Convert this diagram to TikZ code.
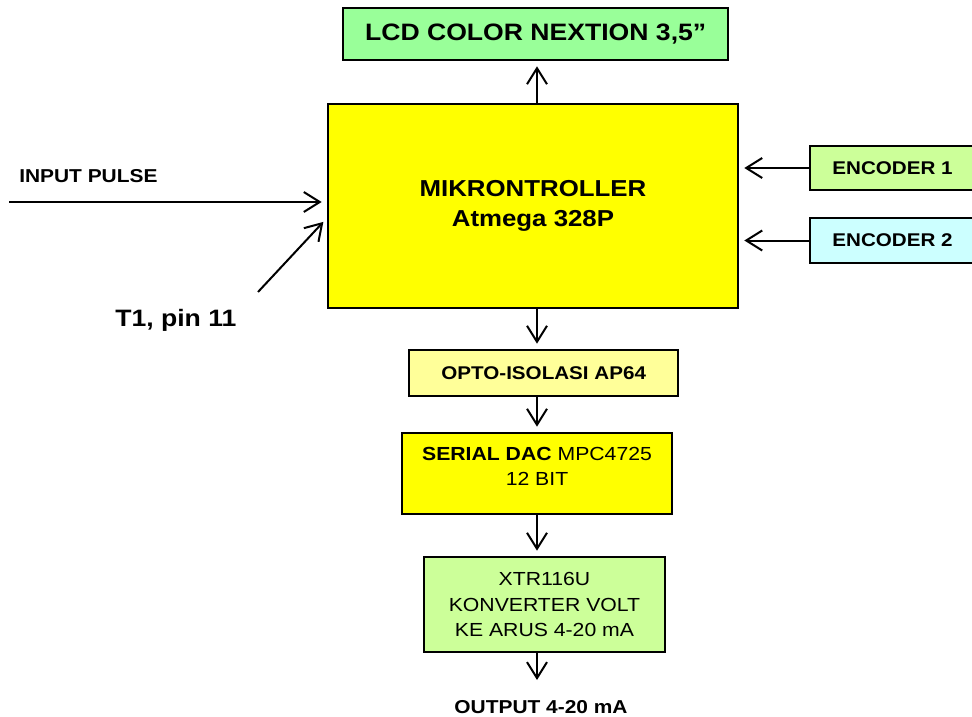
\documentclass[tikz,border=0pt]{standalone}
\usepackage{fontspec}
\setmainfont{Liberation Sans}[FakeStretch=1.12]
\usetikzlibrary{arrows.meta,positioning}
\definecolor{lcdGreen}{RGB}{153,255,153}
\definecolor{mcuYellow}{RGB}{255,255,0}
\definecolor{encLime}{RGB}{204,255,153}
\definecolor{encCyan}{RGB}{204,255,255}
\definecolor{optoYellow}{RGB}{255,255,153}
\tikzset{
  blockbox/.style={
    rectangle, draw=black, line width=1.5pt,
    fill=mcuYellow, text=black, align=center, inner sep=2pt,
    font=\fontsize{14.2}{19}\selectfont},
  boldbox/.style={
    blockbox, font=\bfseries\fontsize{13.8}{17}\selectfont},
  plainlabel/.style={
    inner sep=0pt, anchor=base west, font=\bfseries\fontsize{14}{17}\selectfont},
  arrowline/.style={-{Straight Barb[length=12pt,width=15pt]}, line width=1.5pt, shorten >=4pt}
}

\begin{document}
\begin{tikzpicture}[x=0.75pt,y=-0.75pt,node distance=30pt]
  \useasboundingbox (0,0) rectangle (972,717);

  \node[blockbox, minimum width=307.5pt, minimum height=153pt,
        font=\bfseries\fontsize{17.3}{22.5}\selectfont] (mcu) at (533,206) {MIKRONTROLLER\\Atmega 328P};

  \node[blockbox, fill=lcdGreen, minimum width=288.75pt, minimum height=39pt,
        font=\bfseries\fontsize{17.8}{21}\selectfont, above=31.5pt of mcu, xshift=2pt] (lcd) {LCD COLOR NEXTION 3,5”};

  \node[boldbox, fill=encLime, minimum width=123.75pt, minimum height=33pt] (enc1) at (892.5,168) {ENCODER 1};
  \node[boldbox, fill=encCyan, minimum width=123.75pt, minimum height=34pt] (enc2) at (892.5,240.5) {ENCODER 2};

  \node[boldbox, fill=optoYellow, minimum width=201.75pt, minimum height=34.5pt,
        below=30pt of mcu, xshift=8pt] (opto) {OPTO-ISOLASI AP64};
  \node[blockbox, minimum width=202.5pt, minimum height=60.75pt,
        below=26.25pt of opto, xshift=-5pt] (dac) {\textbf{SERIAL DAC} MPC4725\\12 BIT\\[-8pt]};
  \node[blockbox, fill=encLime, minimum width=180.75pt, minimum height=71.25pt,
        below=30.75pt of dac, xshift=5.6pt] (xtr) {XTR116U\\KONVERTER VOLT\\KE ARUS 4-20 mA};

  \node[plainlabel, anchor=base] (out) at (541,713) {OUTPUT 4-20 mA};
  \node[plainlabel] (pulse) at (19,182) {INPUT PULSE};
  \node[plainlabel, font=\bfseries\fontsize{17.8}{21}\selectfont] (t1) at (115,326) {T1, pin 11};

  \coordinate (ax) at (537,0);
  \coordinate (pulsein) at (9,202);
  \coordinate (t1in) at (258,292);
  \coordinate (outend) at (537,680);

  % column of arrows
  \draw[arrowline] (mcu.north -| ax) -- (lcd.south -| ax);
  \draw[arrowline] (mcu.south -| ax) -- (opto.north -| ax);
  \draw[arrowline] (opto.south -| ax) -- (dac.north -| ax);
  \draw[arrowline] (dac.south -| ax) -- (xtr.north -| ax);
  \draw[arrowline, shorten >=0pt] (xtr.south -| ax) -- (outend);

  % inputs
  \draw[arrowline] (enc1.west) -- (enc1.west -| mcu.east);
  \draw[arrowline] (enc2.west) -- (enc2.west -| mcu.east);
  \draw[arrowline] (pulsein) -- (pulsein -| mcu.west);
  \draw[arrowline] (t1in) -- ([yshift=-9pt]mcu.west);
\end{tikzpicture}
\end{document}
